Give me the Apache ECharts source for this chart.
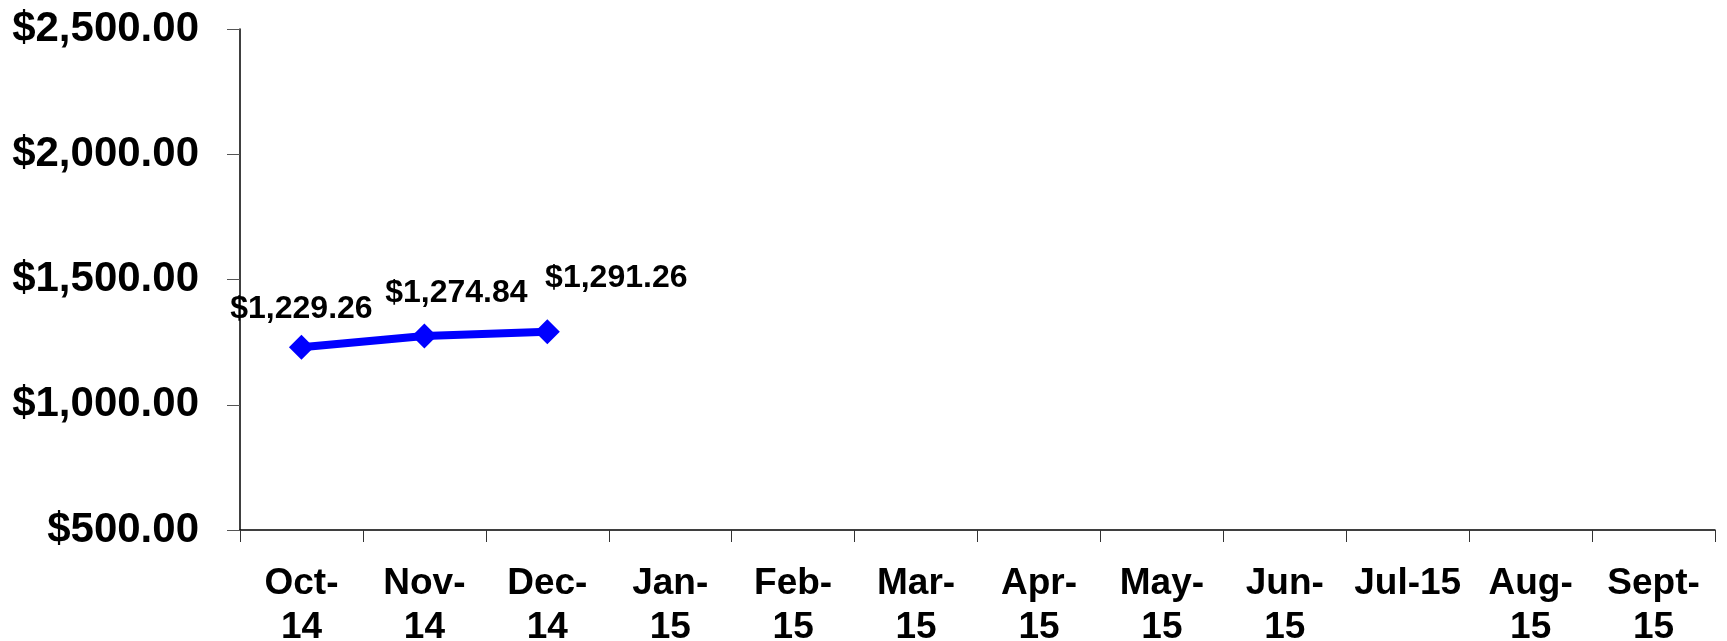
<!DOCTYPE html>
<html>
<head>
<meta charset="utf-8">
<script src="https://cdn.jsdelivr.net/npm/echarts@6/dist/echarts.min.js"></script>
<style>
    html, body { margin: 0; padding: 0; background: #fff; }
    #chart { width: 1727px; height: 641px; }
</style>
</head>
<body>
<div id="chart"></div>
<script>
    var months = ['Oct-\n14', 'Nov-\n14', 'Dec-\n14', 'Jan-\n15', 'Feb-\n15', 'Mar-\n15',
        'Apr-\n15', 'May-\n15', 'Jun-\n15', 'Jul-15', 'Aug-\n15', 'Sept-\n15'];
    var balance = [1229.26, 1274.84, 1291.26, null, null, null, null, null, null, null, null, null];
    var labelShift = [[0, -38], [32, -43], [69, -54]];

    function money(v) {
        return '$' + v.toFixed(2).replace(/\B(?=(\d{3})+(?!\d))/g, ',');
    }

    var chart = echarts.init(document.getElementById('chart'));

    var points = balance.map(function (v, i) {
        if (v === null) return null;
        return {
            value: v,
            label: {offset: labelShift[i]}
        };
    });

    var option = {
        backgroundColor: '#fff',
        animation: false,
        textStyle: {fontFamily: 'Liberation Sans, Arial, sans-serif'},
        grid: {left: 240, right: 12, top: 29, bottom: 111, outerBoundsMode: 'none', containLabel: false},
        xAxis: {
            type: 'category',
            data: months,
            boundaryGap: true,
            axisLine: {lineStyle: {color: '#000', width: 1.5}},
            axisTick: {show: true, length: 12, lineStyle: {color: '#333'}},
            axisLabel: {
                interval: 0,
                color: '#000',
                fontWeight: 'bold',
                fontSize: 37,
                lineHeight: 44,
                margin: 32
            },
            splitLine: {show: false}
        },
        yAxis: {
            type: 'value',
            min: 500,
            max: 2500,
            interval: 500,
            axisLine: {show: true, lineStyle: {color: '#000', width: 1.5}},
            axisTick: {show: true, length: 13, lineStyle: {color: '#555'}},
            axisLabel: {
                color: '#000',
                fontWeight: 'bold',
                fontSize: 42,
                margin: 41,
                formatter: function (v) { return money(v); }
            },
            splitLine: {show: false}
        },
        series: [{
            type: 'line',
            data: points,
            connectNulls: false,
            symbol: 'diamond',
            symbolSize: 25,
            lineStyle: {color: '#0000ff', width: 8},
            itemStyle: {color: '#0000ff'},
            label: {
                show: true,
                position: 'inside',
                color: '#000',
                fontWeight: 'bold',
                fontSize: 32,
                formatter: function (p) { return money(p.value); }
            }
        }]
    };

    chart.setOption(option);
</script>
</body>
</html>
